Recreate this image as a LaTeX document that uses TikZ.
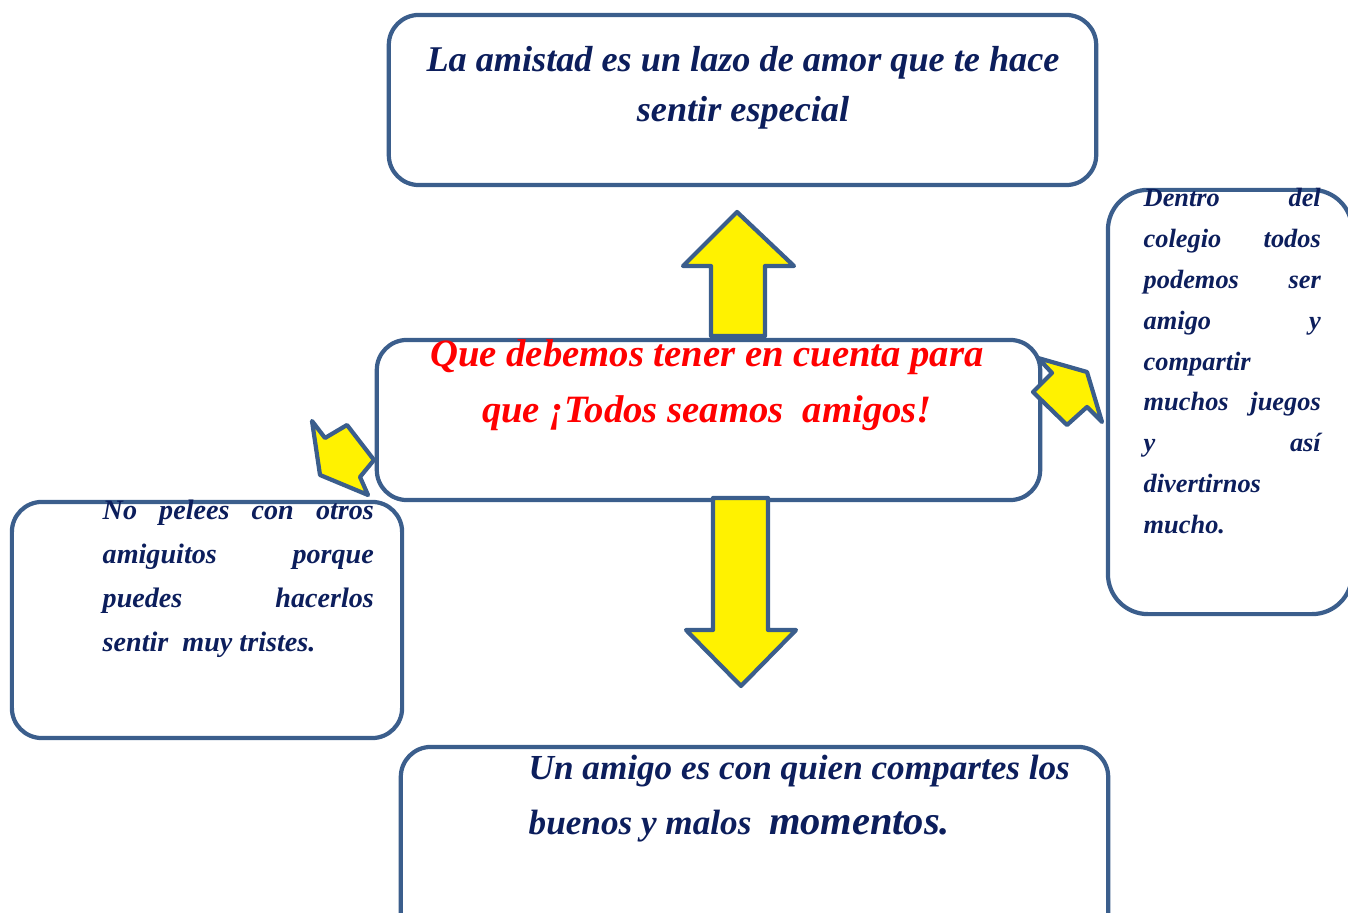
\documentclass[tikz,border=0pt]{standalone}
\usepackage{fontspec}
\setmainfont{Liberation Serif}
\usetikzlibrary{positioning}
\definecolor{borde}{RGB}{59,94,140}
\definecolor{tinta}{RGB}{12,30,92}
\tikzstyle{caja} = [draw=borde, line width=1.2pt, rectangle, rounded corners=0.3cm, inner sep=0pt]
\tikzstyle{flecha} = [draw=borde, fill=yellow, line width=1.2pt, line join=round]
\tikzstyle{texto} = [inner sep=0pt, text=tinta]
\begin{document}
\begin{tikzpicture}[x=0.01cm, y=-0.01cm]
    \useasboundingbox (0,0) rectangle (1348,913);
    %% Cajas
    \node[caja, minimum width=7.07cm, minimum height=1.70cm] (amistad) at (742.5,100) {};
    \node[caja, minimum width=6.63cm, minimum height=1.60cm] (centro) at (708.5,420) {};
    \node[caja, minimum width=3.90cm, minimum height=2.36cm] (pelear) at (207,620) {};
    \node[caja, rounded corners=0.4cm, minimum width=2.44cm, minimum height=4.24cm] (colegio) at (1230,402) {};
    \node[caja, minimum width=7.07cm, minimum height=2.10cm] (momentos) at (754.5,852) {};
    %% Flechas
    \draw[flecha] (711,336) -- (711,266) -- (683,266) -- (737,212) -- (794,266) -- (765,266) -- (765,336) -- cycle;
    \draw[flecha] (713,498) -- (713,630) -- (686,630) -- (741,686) -- (796,630) -- (768,630) -- (768,498) -- cycle;
    \draw[flecha] (312,421) -- (325,438) -- (347,425) -- (374,460) -- (360,477) -- (368,495) -- (320,475) -- cycle;
    \draw[flecha] (1038,358) -- (1087,372) -- (1102,422) -- (1087,407) -- (1067,425) -- (1033,392) -- (1052,373) -- cycle;
    %% Textos
    \node[texto, font=\bfseries\itshape\fontsize{10.3}{14.2}\selectfont, align=center, anchor=north] (tamistad) at (743,46)
        {La amistad es un lazo de amor que te hace\\sentir especial};
    \node[texto, text=red, font=\bfseries\itshape\fontsize{11}{16}\selectfont, align=center, anchor=north] (tcentro) at (707,339)
        {Que debemos tener en cuenta para\\que ¡Todos seamos \ amigos!};
    \node[texto, font=\bfseries\itshape\fontsize{8}{12.5}\selectfont, text width=2.71cm, align=justify, anchor=north west] (tpelear) at (102,499)
        {No pelees con otros\linebreak amiguitos porque\linebreak puedes hacerlos\linebreak sentir\ \ muy tristes.};
    \node[texto, font=\bfseries\itshape\fontsize{7.5}{11.6}\selectfont, text width=1.77cm, align=justify, anchor=north west] (tcolegio) at (1143,188)
        {Dentro del\linebreak colegio todos\linebreak podemos ser\linebreak amigo y\linebreak compartir\\ muchos juegos\linebreak y así\linebreak divertirnos\\ mucho.};
    \node[texto, font=\bfseries\itshape\fontsize{10}{15.8}\selectfont, align=left, anchor=north west] (tmomentos) at (528,754)
        {Un amigo es con quien compartes los\\buenos y malos \ {\fontsize{11.5}{15.8}\selectfont momentos.}};
\end{tikzpicture}
\end{document}
